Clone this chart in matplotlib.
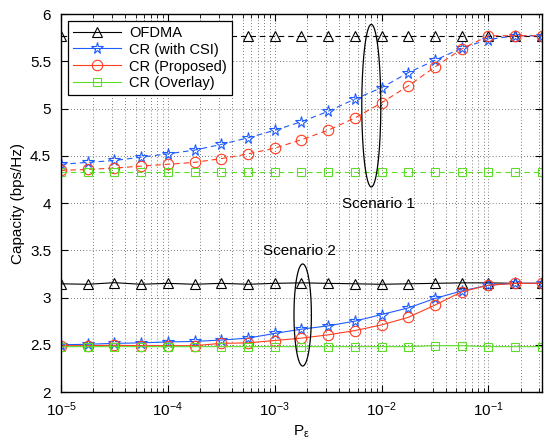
import matplotlib.pyplot as plt
import numpy as np

plt.rcParams['font.family'] = ['Liberation Sans', 'DejaVu Sans']
plt.rcParams['mathtext.fontset'] = 'custom'
plt.rcParams['mathtext.rm'] = 'Liberation Sans'
plt.rcParams['mathtext.it'] = 'Liberation Sans'

# P_eps values: 4 points per decade, 1e-5 .. 10^-0.5
log_p = [-5.0, -4.75, -4.5, -4.25, -4.0, -3.75, -3.5, -3.25, -3.0, -2.75,
         -2.5, -2.25, -2.0, -1.75, -1.5, -1.25, -1.0, -0.75, -0.5]
p_eps = [10 ** v for v in log_p]

# Scenario 1 (dashed)
ofdma_1 = [5.77] * 19
csi_1 = [4.41, 4.43, 4.45, 4.485, 4.52, 4.56, 4.62, 4.69, 4.77, 4.86,
         4.97, 5.10, 5.22, 5.38, 5.51, 5.64, 5.73, 5.77, 5.77]
prop_1 = [4.345, 4.355, 4.37, 4.39, 4.41, 4.43, 4.47, 4.52, 4.58, 4.67,
          4.77, 4.90, 5.06, 5.24, 5.44, 5.63, 5.77, 5.77, 5.77]
overlay_1 = [4.33] * 19

# Scenario 2 (solid)
ofdma_2 = [3.145, 3.14, 3.157, 3.14, 3.15, 3.14, 3.15, 3.14, 3.15, 3.155,
           3.15, 3.145, 3.14, 3.145, 3.15, 3.155, 3.155, 3.15, 3.15]
csi_2 = [2.50, 2.505, 2.515, 2.52, 2.53, 2.535, 2.55, 2.57, 2.62, 2.665,
         2.70, 2.75, 2.82, 2.89, 2.99, 3.07, 3.13, 3.15, 3.15]
prop_2 = [2.49, 2.49, 2.495, 2.49, 2.49, 2.49, 2.515, 2.52, 2.545, 2.57,
          2.605, 2.65, 2.71, 2.79, 2.92, 3.06, 3.13, 3.15, 3.15]
overlay_2 = [2.48, 2.48, 2.48, 2.48, 2.48, 2.48, 2.48, 2.48, 2.48, 2.48,
             2.48, 2.48, 2.48, 2.48, 2.49, 2.49, 2.48, 2.48, 2.48]

black = 'black'
blue = '#1f5cff'
red = '#ff3d1f'
green = '#5ddc28'

fig = plt.figure(figsize=(5.49, 4.38), dpi=100)
ax = fig.add_axes([0.111, 0.105, 0.876, 0.863])

dash = (0, (5, 3.5))
kw = dict(lw=0.8, mfc='none', mew=0.8)

ax.plot(p_eps, ofdma_1, color=black, marker='^', ms=7.5, ls=dash, **kw)
ax.plot(p_eps, csi_1, color=blue, marker='*', ms=8.5, ls=dash, **kw)
ax.plot(p_eps, prop_1, color=red, marker='o', ms=7.5, ls=dash, **kw)
ax.plot(p_eps, overlay_1, color=green, marker='s', ms=6, ls=dash, **kw)

ax.plot(p_eps, ofdma_2, color=black, marker='^', ms=7.5, ls='-', label='OFDMA', **kw)
ax.plot(p_eps, csi_2, color=blue, marker='*', ms=8.5, ls='-', label='CR (with CSI)', **kw)
ax.plot(p_eps, prop_2, color=red, marker='o', ms=7.5, ls='-', label='CR (Proposed)', **kw)
ax.plot(p_eps, overlay_2, color=green, marker='s', ms=6, ls='-', label='CR (Overlay)', **kw)

ax.set_xscale('log')
ax.set_xlim(1e-5, 10 ** -0.5)
ax.set_ylim(2, 6)
ax.set_yticks([2, 2.5, 3, 3.5, 4, 4.5, 5, 5.5, 6])
ax.set_yticklabels(['2', '2.5', '3', '3.5', '4', '4.5', '5', '5.5', '6'])

ax.grid(True, which='major', axis='both', color='black', ls=(0, (1, 3.5)), lw=0.5)
ax.grid(True, which='minor', axis='x', color='black', ls=(0, (1, 3.5)), lw=0.5)
ax.tick_params(which='both', direction='in', top=True, right=True, labelsize=11)
ax.tick_params(axis='y', pad=7)
ax.tick_params(axis='x', pad=6)
ax.tick_params(which='major', length=5)
ax.tick_params(which='minor', length=3)
for s in ax.spines.values():
    s.set_linewidth(1.0)

# ellipses marking the two scenarios, centre/size in log10(x) and y units
ellipses = [(-2.096, 5.03, 0.178, 1.72), (-2.738, 2.815, 0.163, 1.08)]
t = np.linspace(0, 2 * np.pi, 200)
for cx, cy, w, h in ellipses:
    ax.plot(10 ** (cx + w / 2 * np.cos(t)), cy + h / 2 * np.sin(t), color='black', lw=0.9)

ax.text(10 ** -2.374, 3.99, 'Scenario 1', fontsize=11, va='center', ha='left')
ax.text(10 ** -3.112, 3.49, 'Scenario 2', fontsize=11, va='center', ha='left')

ax.set_xlabel(r'P$_\epsilon$', fontsize=11, labelpad=3)
ax.set_ylabel('Capacity (bps/Hz)', fontsize=11, labelpad=4)

leg = ax.legend(loc='upper left', fontsize=10.5, handlelength=3.3, fancybox=False,
                framealpha=1, edgecolor='black', borderaxespad=0.5,
                labelspacing=0.2, borderpad=0.3, handletextpad=0.6)
leg.get_frame().set_linewidth(0.9)

fig.savefig('out.png', dpi=100)
